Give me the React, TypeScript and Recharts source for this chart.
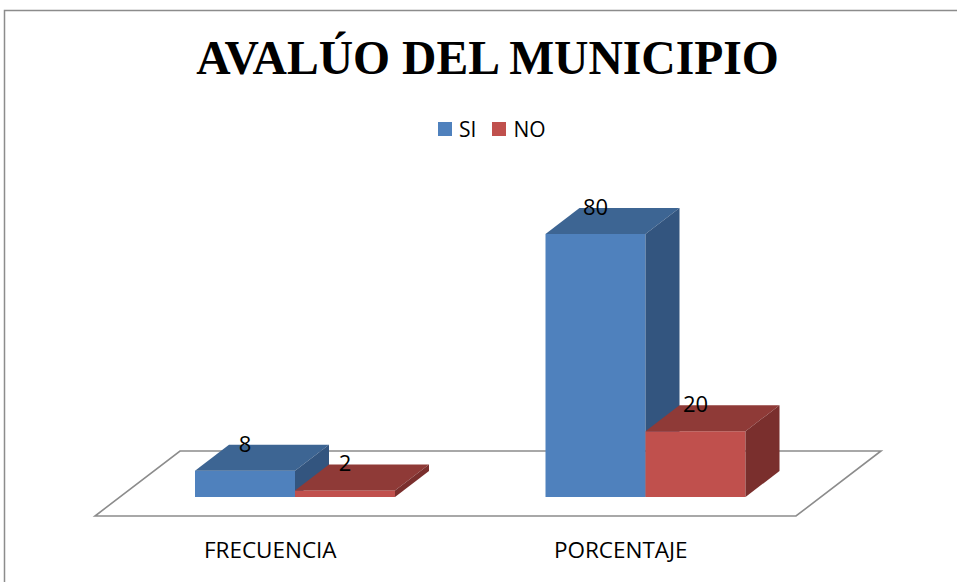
import React from 'react';
import { BarChart, Bar, XAxis, YAxis, Legend, LabelList } from 'recharts';

const categories = ['FRECUENCIA', 'PORCENTAJE'];
const siValues = [8, 80];
const noValues = [2, 20];
const seriesNames = ['SI', 'NO'];
const titleText = 'AVALÚO DEL MUNICIPIO';

const data = categories.map((c, i) => ({ name: c, SI: siValues[i], NO: noValues[i] }));

// layout
const W = 957;
const H = 582;
const M_TOP = 234;
const M_LEFT = 120;
const M_RIGHT = 136;
const X_AXIS_H = 85;
const BASE_Y = H - X_AXIS_H;
const PLOT_RIGHT = W - M_RIGHT;

const DX = 34;
const DY = 26;
const FONT = '"Open Sans", sans-serif';

const COLORS: Record<string, { front: string; top: string; side: string }> = {
  SI: { front: '#4F81BD', top: '#3D6593', side: '#33557F' },
  NO: { front: '#C0504D', top: '#8F3A37', side: '#7A2F2D' },
};

const make3D = (c: { front: string; top: string; side: string }) => (props: any) => {
  const { x, y, width: w, height: h } = props;
  if (w == null || h == null) return <g />;
  return (
    <g>
      <rect x={x} y={y} width={w} height={h} fill={c.front} />
      <polygon points={`${x},${y} ${x + DX},${y - DY} ${x + w + DX},${y - DY} ${x + w},${y}`} fill={c.top} />
      <polygon
        points={`${x + w},${y} ${x + w + DX},${y - DY} ${x + w + DX},${y + h - DY} ${x + w},${y + h}`}
        fill={c.side}
      />
    </g>
  );
};

const floorPoints = () => {
  const fy = BASE_Y + 19;
  const by = BASE_Y - 46;
  return `${M_LEFT - 25},${fy} ${PLOT_RIGHT - 25},${fy} ${PLOT_RIGHT + 60},${by} ${M_LEFT + 60},${by}`;
};

const renderLabel = (props: any) => {
  const { x, y, width, value } = props;
  return (
    <text x={x + width / 2} y={y - 19} textAnchor="middle" fontFamily={FONT} fontSize={22} fill="#000">
      {value}
    </text>
  );
};

const CatTick = (props: any) => {
  const { x, y, payload } = props;
  return (
    <text x={x - 25} y={y + 61} textAnchor="middle" fontFamily={FONT} fontSize={22.5} fill="#000">
      {payload.value}
    </text>
  );
};

const LegendContent = () => (
  <div style={{ display: 'flex', alignItems: 'center', fontFamily: FONT, fontSize: 21, lineHeight: '21px', color: '#000' }}>
    {seriesNames.map((n, i) => (
      <div key={n} style={{ display: 'flex', alignItems: 'center', marginRight: i === 0 ? 16 : 0 }}>
        <div style={{ width: 14, height: 14, background: COLORS[n].front, marginRight: 7 }} />
        <span>{n}</span>
      </div>
    ))}
  </div>
);

export default function App() {
  return (
    <div style={{ position: 'absolute', left: 0, top: 0, width: W, height: H, background: '#fff', overflow: 'hidden' }}>
      <svg width={W} height={H} style={{ position: 'absolute', left: 0, top: 0 }}>
        <polygon points={floorPoints()} fill="#ffffff" stroke="#8c8c8c" strokeWidth={1.6} />
      </svg>
      <div style={{ position: 'absolute', left: 0, top: 0 }}>
        <BarChart
          width={W}
          height={H}
          data={data}
          margin={{ top: M_TOP, right: M_RIGHT, bottom: 0, left: M_LEFT }}
          barGap={0}
        >
          <XAxis
            dataKey="name"
            axisLine={false}
            tickLine={false}
            tickSize={0}
            tickMargin={0}
            height={X_AXIS_H}
            tick={<CatTick />}
            interval={0}
          />
          <YAxis hide domain={[0, 80]} />
          <Legend
            layout="horizontal"
            verticalAlign="middle"
            align="center"
            content={<LegendContent />}
            wrapperStyle={{ position: 'absolute', top: 118.5, left: 438, width: 'auto' }}
          />
          <Bar dataKey="SI" name="SI" barSize={100} isAnimationActive={false} shape={make3D(COLORS.SI)}>
            <LabelList dataKey="SI" content={renderLabel} />
          </Bar>
          <Bar dataKey="NO" name="NO" barSize={100} isAnimationActive={false} shape={make3D(COLORS.NO)}>
            <LabelList dataKey="NO" content={renderLabel} />
          </Bar>
        </BarChart>
      </div>
      <svg width={W} height={H} style={{ position: 'absolute', left: 0, top: 0, pointerEvents: 'none' }}>
        <path d="M4.5,582 L4.5,10.5 L957,10.5" fill="none" stroke="#8c8c8c" strokeWidth={1.5} />
        <text
          x={487.5}
          y={74}
          textAnchor="middle"
          fontFamily='"Liberation Serif", "Times New Roman", serif'
          fontWeight="bold"
          fontSize={47.6}
          fill="#000"
        >
          {titleText}
        </text>
      </svg>
    </div>
  );
}
